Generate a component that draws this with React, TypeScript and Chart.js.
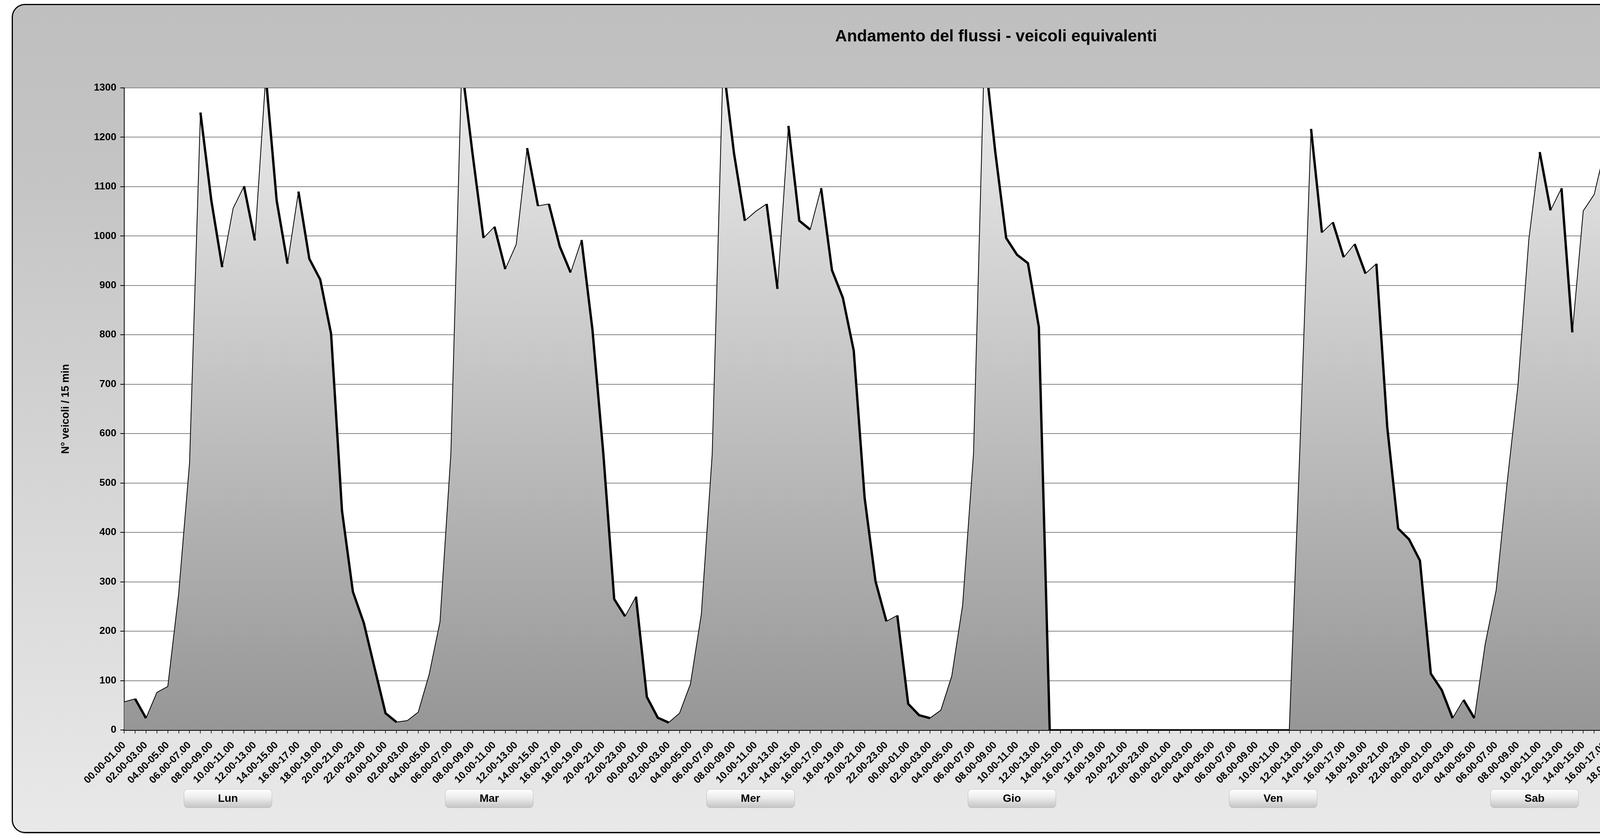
import React, { useEffect, useRef } from 'react';
import { Chart, registerables } from 'chart.js';

Chart.register(...registerables);

// ---------- DATA ----------
const TITLE = 'Andamento del flussi - veicoli equivalenti';
const Y_TITLE = 'N° veicoli / 15 min';

const HOURS = [
  '00.00-01.00', '01.00-02.00', '02.00-03.00', '03.00-04.00', '04.00-05.00', '05.00-06.00',
  '06.00-07.00', '07.00-08.00', '08.00-09.00', '09.00-10.00', '10.00-11.00', '11.00-12.00',
  '12.00-13.00', '13.00-14.00', '14.00-15.00', '15.00-16.00', '16.00-17.00', '17.00-18.00',
  '18.00-19.00', '19.00-20.00', '20.00-21.00', '21.00-22.00', '22.00-23.00', '23.00-24.00',
];

const DAYS = ['Lun', 'Mar', 'Mer', 'Gio', 'Ven', 'Sab', 'Dom'];

const LUN = [57, 63, 24, 76, 88, 276, 541, 1250, 1072, 937, 1056, 1101, 991, 1325, 1072, 944, 1090, 954, 912, 802, 444, 280, 217, 125];
const MAR = [34, 16, 19, 36, 112, 219, 560, 1345, 1165, 996, 1019, 933, 983, 1178, 1061, 1065, 979, 926, 992, 811, 560, 265, 230, 270];
const MER = [67, 25, 15, 34, 93, 234, 558, 1350, 1168, 1031, 1050, 1065, 893, 1223, 1031, 1013, 1097, 931, 875, 768, 470, 301, 220, 232];
const GIO = [53, 30, 24, 40, 109, 253, 560, 1375, 1170, 996, 962, 945, 816, 0, 0, 0, 0, 0, 0, 0, 0, 0, 0, 0];
const VEN = [0, 0, 0, 0, 0, 0, 0, 0, 0, 0, 0, 0, 585, 1217, 1007, 1028, 957, 984, 924, 944, 613, 408, 386, 343];
const SAB = [114, 81, 24, 61, 24, 175, 283, 499, 697, 993, 1170, 1052, 1097, 805, 1051, 1084, 1177, 1154, 971, 891, 638, 381, 442, 449];
const DOM = [133, 82, 22, 59, 45, 87, 108, 188, 465, 739, 857, 878, 788, 583, 747, 941, 1204, 1167, 899, 684, 499, 314, 255, 154];

const Y_MIN = 0;
const Y_MAX = 1300;
const Y_STEP = 100;

// ---------- LAYOUT ----------
const W = 5257;
const H = 2143;
const PLOT_LEFT = 318;
const PLOT_RIGHT = 4973;
const PLOT_TOP = 225;
const PLOT_BOTTOM = 1869;
const FONT = '"Liberation Sans", Arial, sans-serif';

const plotBgPlugin = {
  id: 'plotBg',
  beforeDraw(chart: any) {
    const { ctx, chartArea: a } = chart;
    if (!a) return;
    ctx.save();
    ctx.fillStyle = '#ffffff';
    ctx.fillRect(a.left, a.top, a.right - a.left, a.bottom - a.top);
    ctx.restore();
  },
};

const framePlugin = {
  id: 'frameRight',
  afterDatasetsDraw(chart: any) {
    const { ctx, chartArea: a } = chart;
    ctx.save();
    ctx.strokeStyle = '#3a3a3a';
    ctx.lineWidth = 2;
    ctx.beginPath();
    ctx.moveTo(a.right, a.top);
    ctx.lineTo(a.right, a.bottom);
    ctx.stroke();
    ctx.restore();
  },
};

const titlePlugin = {
  id: 'mainTitle',
  afterDraw(chart: any) {
    const { ctx } = chart;
    ctx.save();
    ctx.font = `bold 42px ${FONT}`;
    ctx.fillStyle = '#000';
    ctx.textAlign = 'center';
    ctx.textBaseline = 'middle';
    ctx.fillText(TITLE, 2550, 94);
    ctx.restore();
  },
};

const dayPlugin = {
  id: 'dayGroups',
  afterDraw(chart: any) {
    const { ctx } = chart;
    const xs = chart.scales.x;
    const bw = 225;
    const bh = 47;
    const top = 2021;
    ctx.save();
    DAYS.forEach((d, i) => {
      const cx = xs.getPixelForValue(i * HOURS.length + (HOURS.length - 1) / 2) - 55;
      const left = cx - bw / 2;
      const g = ctx.createLinearGradient(0, top, 0, top + bh);
      g.addColorStop(0, '#ffffff');
      g.addColorStop(0.45, '#ececec');
      g.addColorStop(1, '#c4c4c4');
      ctx.fillStyle = g;
      ctx.beginPath();
      ctx.roundRect(left, top, bw, bh, 9);
      ctx.fill();
      ctx.strokeStyle = 'rgba(160,160,160,0.6)';
      ctx.lineWidth = 1;
      ctx.stroke();
      ctx.fillStyle = '#000';
      ctx.font = `bold 28px ${FONT}`;
      ctx.textAlign = 'center';
      ctx.textBaseline = 'middle';
      ctx.fillText(d, cx, top + bh / 2 + 1);
    });
    ctx.restore();
  },
};

export default function App() {
  const ref = useRef<HTMLCanvasElement | null>(null);

  useEffect(() => {
    const canvas = ref.current;
    if (!canvas) return;
    const labels = DAYS.flatMap(() => HOURS);
    const values = [LUN, MAR, MER, GIO, VEN, SAB, DOM].flat();

    const chart = new Chart(canvas, {
      type: 'line',
      data: {
        labels,
        datasets: [
          {
            label: 'area',
            order: 2,
            data: values,
            fill: 'origin',
            clip: 0,
            borderWidth: 0,
            borderColor: 'rgba(0,0,0,0)',
            pointRadius: 0,
            pointHoverRadius: 0,
            tension: 0,
            backgroundColor: (c: any) => {
              const { chart: ch } = c;
              const a = ch.chartArea;
              if (!a) return '#bbbbbb';
              const g = ch.ctx.createLinearGradient(0, a.top, 0, a.bottom);
              g.addColorStop(0, '#ebebeb');
              g.addColorStop(1, '#969696');
              return g;
            },
          } as any,
          {
            label: 'veicoli equivalenti',
            order: 1,
            data: values,
            fill: false,
            clip: 0,
            borderColor: '#000',
            borderWidth: 2,
            pointRadius: 0,
            pointHoverRadius: 0,
            tension: 0,
            segment: {
              borderWidth: (s: any) => (s.p1.parsed.y < s.p0.parsed.y ? 6 : 2),
            },
          } as any,
        ],
      },
      options: {
        responsive: false,
        animation: false,
        devicePixelRatio: 1,
        layout: {
          padding: { left: 0, right: W - PLOT_RIGHT, top: PLOT_TOP, bottom: 0 },
        },
        plugins: {
          legend: { display: false },
          tooltip: { enabled: false },
          title: { display: false },
        },
        scales: {
          x: {
            type: 'category',
            offset: false,
            afterFit: (s: any) => {
              s.height = H - PLOT_BOTTOM;
            },
            grid: {
              drawOnChartArea: false,
              drawTicks: true,
              tickLength: 9,
              color: '#000',
              lineWidth: 1.5,
            },
            border: { display: true, color: '#000', width: 4 },
            ticks: {
              autoSkip: false,
              maxRotation: 45,
              minRotation: 45,
              padding: 15,
              color: '#000',
              font: { family: FONT, size: 26, weight: 'bold' },
              callback: (_v: any, i: number) => (i % 2 === 0 ? labels[i] : ''),
            },
          },
          y: {
            min: Y_MIN,
            max: Y_MAX,
            afterFit: (s: any) => {
              s.width = PLOT_LEFT;
            },
            grid: {
              color: '#858585',
              lineWidth: 2,
              drawTicks: true,
              tickLength: 10,
              tickColor: '#000',
            },
            border: { display: true, color: '#000', width: 2 },
            ticks: {
              stepSize: Y_STEP,
              padding: 10,
              color: '#000',
              font: { family: FONT, size: 26, weight: 'bold' },
              callback: (v: any) => String(v),
            },
            title: {
              display: true,
              text: Y_TITLE,
              color: '#000',
              font: { family: FONT, size: 27, weight: 'bold' },
              padding: { top: 152, bottom: 0 },
            },
          },
        },
      },
      plugins: [plotBgPlugin, framePlugin, titlePlugin, dayPlugin],
    });

    return () => chart.destroy();
  }, []);

  return (
    <div style={{ position: 'fixed', left: 0, top: 0, width: W, height: H, background: '#ffffff', overflow: 'hidden' }}>
      <div
        style={{
          position: 'absolute',
          left: 30,
          top: 10,
          width: 5217 - 6,
          height: 2123 - 6,
          border: '3px solid #000',
          borderRadius: 34,
          background: 'linear-gradient(to bottom, #bfbfbf 0%, #c4c4c4 20%, #e9e9e9 100%)',
          boxShadow: '1px 1px 2px rgba(0,0,0,0.4)',
        }}
      />
      <canvas
        ref={ref}
        width={W}
        height={H}
        style={{ position: 'absolute', left: 0, top: 0, width: W, height: H }}
      />
    </div>
  );
}
